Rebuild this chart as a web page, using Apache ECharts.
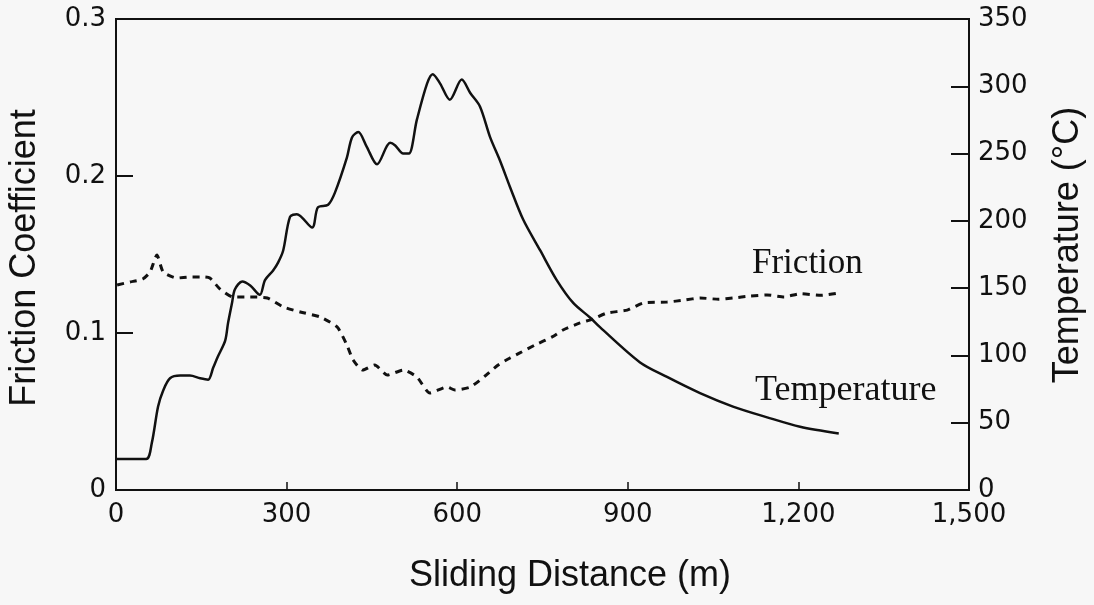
<!DOCTYPE html>
<html>
<head>
<meta charset="utf-8">
<script src="https://cdn.jsdelivr.net/npm/echarts@6/dist/echarts.min.js"></script>
<style>html,body{margin:0;padding:0;background:#f7f7f7}#c{width:1094px;height:605px}</style>
</head>
<body>
<div id="c"></div>
<script>
// Temperature (solid line, right axis, °C) vs sliding distance (m)
var tempDist = [0,53,63,74,83,95,113,130,148,162,171,179,192,197,204,209,222,236,253,262,276,285,294,306,318,345,355,373,385,406,415,426,441,459,482,491,505,515,529,547,557,570,587,608,623,640,658,675,693,716,746,775,804,834,851,921,969,1027,1085,1145,1203,1271];
var tempVals = [23,23,35,62,74,83,85,85,83,82,91,99,111,124,139,149,155,152,145,156,163,169,178,203,205,195,210,212,221,247,262,266,255,242,258,256,250,250,275,302,309,302,290,305,295,285,262,245,225,201,178,156,139,128,121,95,84,72,62,54,47,42];
// Friction coefficient (dashed line, left axis)
var fricDist = [2,25,47,60,72,83,107,130,153,165,183,206,236,266,294,324,359,389,406,417,434,455,477,505,529,552,582,596,623,649,672,693,710,737,767,786,816,839,863,899,927,969,1000,1027,1060,1085,1115,1145,1175,1203,1240,1271];
var fricVals = [0.1306,0.1325,0.1344,0.1389,0.1497,0.1389,0.1350,0.1357,0.1357,0.1350,0.1280,0.1229,0.1229,0.1223,0.1166,0.1134,0.1102,0.1038,0.0924,0.0828,0.0764,0.0796,0.0732,0.0764,0.0720,0.0618,0.0656,0.0637,0.0656,0.0726,0.0796,0.0841,0.0873,0.0924,0.0975,0.1019,0.1064,0.1089,0.1127,0.1146,0.1191,0.1197,0.1210,0.1223,0.1215,0.1223,0.1235,0.1242,0.1230,0.1250,0.1240,0.1255];
var xTicks = [0,300,600,900,1200,1500];
var leftTicks = [0,0.1,0.2,0.3];
var rightTicks = [0,50,100,150,200,250,300,350];

var chart = echarts.init(document.getElementById('c'));
var tickFont = {fontFamily:'DejaVu Sans', fontSize:26, color:'#111'};
chart.setOption({
  backgroundColor:'#f7f7f7',
  animation:false,
  grid:{left:116,right:125,top:19,bottom:115,show:true,borderColor:'#111',borderWidth:2,backgroundColor:'transparent'},
  xAxis:{type:'value',min:xTicks[0],max:xTicks[xTicks.length-1],interval:300,
    axisLine:{show:true,lineStyle:{color:'#111',width:2}},
    axisTick:{show:true,inside:true,length:8,lineStyle:{color:'#111',width:1.5}},
    splitLine:{show:false},
    axisLabel:Object.assign({margin:12,formatter:function(v){return v.toLocaleString('en-US');}},tickFont)},
  yAxis:[
    {type:'value',min:0,max:0.3,interval:0.1,position:'left',
      axisLine:{show:true,lineStyle:{color:'#111',width:2}},
      axisTick:{show:true,inside:true,length:17,lineStyle:{color:'#111',width:2}},
      splitLine:{show:false},
      axisLabel:Object.assign({margin:10,formatter:function(v){return v===0?'0':v.toFixed(1);}},tickFont)},
    {type:'value',min:0,max:350,interval:50,position:'right',
      axisLine:{show:true,lineStyle:{color:'#111',width:2}},
      axisTick:{show:true,inside:true,length:18,lineStyle:{color:'#111',width:2}},
      splitLine:{show:false},
      axisLabel:Object.assign({margin:9},tickFont)}
  ],
  series:[
    {name:'Temperature',type:'line',yAxisIndex:1,showSymbol:false,smooth:0.3,
      lineStyle:{color:'#111',width:2.5},
      data:tempDist.map(function(d,i){return [d,tempVals[i]];})},
    {name:'Friction',type:'line',yAxisIndex:0,showSymbol:false,smooth:0.2,
      lineStyle:{color:'#111',width:3,type:[7,6]},
      data:fricDist.map(function(d,i){return [d,fricVals[i]];})}
  ],
  graphic:[
    {type:'text',x:25,y:258,rotation:Math.PI/2,style:{text:'Friction Coefficient',fontFamily:'Liberation Sans',fontSize:36,fill:'#111',align:'center',verticalAlign:'middle'}},
    {type:'text',x:1068,y:245,rotation:Math.PI/2,style:{text:'Temperature (°C)',fontFamily:'Liberation Sans',fontSize:36,fill:'#111',align:'center',verticalAlign:'middle'}},
    {type:'text',x:570,y:576,style:{text:'Sliding Distance (m)',fontFamily:'Liberation Sans',fontSize:36,fill:'#111',align:'center',verticalAlign:'middle'}},
    {type:'text',x:752,y:264,style:{text:'Friction',fontFamily:'Liberation Serif',fontSize:35,fill:'#111',align:'left',verticalAlign:'middle'}},
    {type:'text',x:755,y:391,style:{text:'Temperature',fontFamily:'Liberation Serif',fontSize:36,fill:'#111',align:'left',verticalAlign:'middle'}}
  ]
});
</script>
</body>
</html>
